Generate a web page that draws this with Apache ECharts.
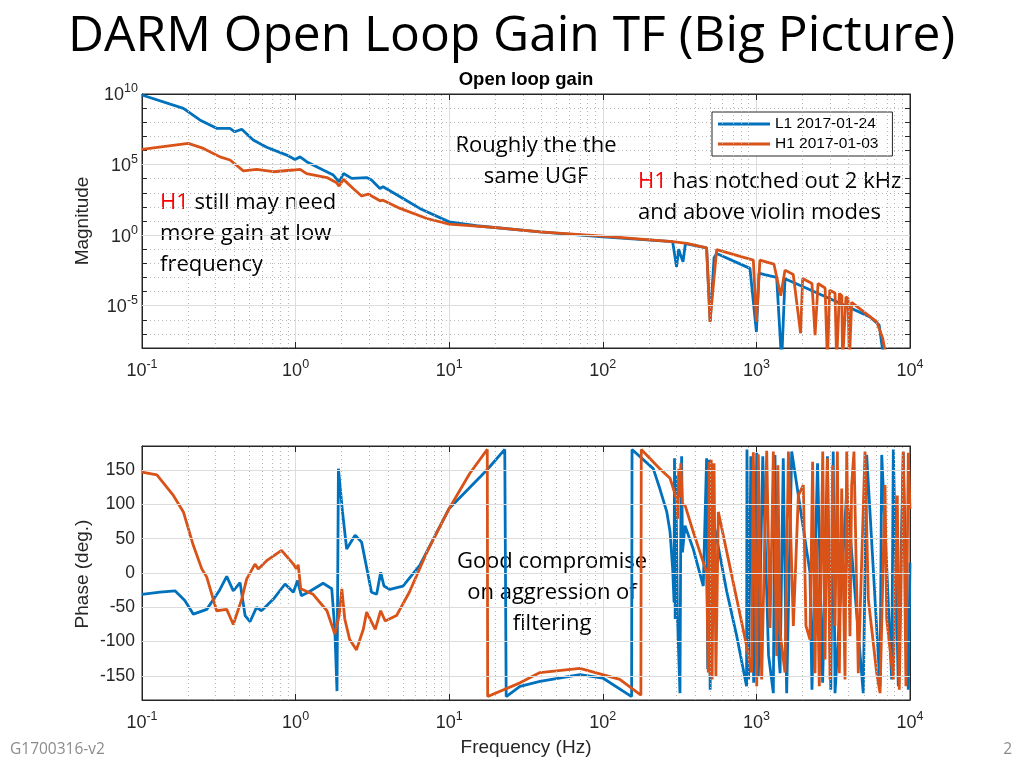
<!DOCTYPE html>
<html><head><meta charset="utf-8">
<script src="https://cdn.jsdelivr.net/npm/echarts@6/dist/echarts.min.js"></script>
<style>html,body{margin:0;padding:0;background:#fff}#c{width:1024px;height:768px}</style>
</head><body><div id="c"></div>
<script>
// ---------------- data ----------------
const seriesNames = ['L1 2017-01-24', 'H1 2017-01-03'];
const xTickExponents = [-1, 0, 1, 2, 3, 4];
const magTickExponents = [-5, 0, 5, 10];
const phaseTicks = [-150, -100, -50, 0, 50, 100, 150];

const magFreqL1 = [0.1, 0.186, 0.238, 0.306, 0.374, 0.402, 0.446, 0.53, 0.648, 0.876, 0.99, 1.07, 1.18, 1.51, 1.76, 1.92, 2.05, 2.32, 2.9, 3.12, 3.54, 3.71, 4.79, 6.43, 10, 15, 39, 100, 285, 302, 312, 318, 333, 345, 474, 500, 530, 551, 908, 1000, 1040, 1130, 1355, 1460, 1535, 2018, 3330, 5495, 6300, 6800];
const magL1 = [8.5e9, 9.5e8, 1.45e8, 3.7e7, 3.7e7, 2.1e7, 3.2e7, 5.5e6, 1.7e6, 4.7e5, 2.3e5, 3.5e5, 1.6e5, 4.1e4, 1.8e4, 6.0e3, 2.3e4, 1.05e4, 1.2e4, 7.9e3, 2.0e3, 2.7e3, 5.2e2, 78, 8.7, 4.6, 1.7, 0.76, 0.34, 5.6e-3, 0.1, 0.05, 1.3e-2, 0.25, 0.126, 8e-7, 0.025, 0.05, 4.4e-3, 1.4e-7, 2e-3, 1.6e-3, 1.0e-3, 1e-9, 8e-4, 2.2e-4, 1.9e-5, 1.6e-6, 4.2e-7, 1e-9];

const magFreqH1 = [0.1, 0.2, 0.251, 0.322, 0.374, 0.457, 0.557, 0.717, 0.967, 1.07, 1.18, 1.6, 1.85, 1.92, 2.05, 2.37, 2.69, 2.97, 3.54, 3.71, 4.79, 7.15, 10, 19.3, 39, 100, 285, 352, 474, 499, 551, 955, 1000, 1054, 1300, 1440, 1535, 1738, 1940, 2000, 2300, 2410, 2520, 2800, 2900, 3000, 3250, 3330, 3470, 3600, 3640, 3830, 3950, 4030, 4170, 6070, 6640, 7100];
const magH1 = [1.2e6, 3.2e6, 1.4e6, 3.5e5, 2.1e5, 3.6e4, 4.6e4, 3.1e4, 4.1e4, 4.6e4, 2.3e4, 1.2e4, 5.1e3, 3.0e3, 8.9e3, 2.0e3, 5.9e2, 8.1e2, 2.7e2, 3.0e2, 78, 15, 6.0, 3.5, 1.7, 0.85, 0.34, 0.26, 0.126, 7e-7, 0.095, 1.7e-2, 7e-7, 1.7e-2, 8.9e-3, 5e-5, 3.3e-3, 1.6e-3, 1.1e-7, 8.5e-4, 3.7e-4, 8e-8, 3.7e-4, 1.8e-4, 1e-9, 1.26e-4, 8e-5, 1e-9, 7.4e-5, 5e-5, 1e-9, 4.3e-5, 3.2e-5, 1e-9, 1.7e-5, 7e-7, 5e-8, 1e-9];

const phaseFreqL1 = [0.1, 0.131, 0.164, 0.19, 0.216, 0.264, 0.32, 0.356, 0.393, 0.435, 0.469, 0.505, 0.557, 0.6, 0.717, 0.854, 0.967, 1.03, 1.09, 1.21, 1.51, 1.72, 1.80, 1.86, 1.90, 2.02, 2.15, 2.44, 2.69, 3.12, 3.37, 3.58, 3.76, 4.11, 5.0, 6.43, 10, 17.6, 23.0, 23.5, 28.9, 39, 71, 100, 154, 155, 213, 235, 261, 274, 285, 291, 293, 296, 299, 306, 318, 322, 326, 330, 343, 388, 451, 474, 482, 490, 500, 510, 537, 641, 745, 863, 868, 890, 920, 960, 1005, 1030, 1100, 1200, 1289, 1321, 1380, 1426, 1496, 1574, 1698, 2232, 2300, 2500, 2700, 2900, 3050, 3164, 3250, 3871, 4963, 5223, 6383, 6546, 7600, 7787, 8392, 9041, 9751, 10000];
const phaseL1 = [-31, -28, -26, -40, -60, -53, -25, -5, -26, -14, -62, -71, -50, -55, -38, -16, -28, -11, -33, -28, -15, -23, -82, -172, 152, 89, 35, 55, 45, -28, -31, 1, -19, -24, -19, 11, 94, 150, 180, -180, -165, -158, -148, -153, -180, 180, 152, 123, 89, 60, 6, -43, 167, -67, 142, -60, -175, 74, 170, 30, 69, 35, -19, 167, -140, 165, -170, 60, 64, -27, -92, -165, 180, -155, 170, -160, 175, -150, 170, -120, -175, 172, -100, -146, 167, -175, 177, 1, -170, 160, -160, 170, -170, 177, -175, 118, -175, 172, -165, 172, -155, 180, -165, 176, -170, 15];

const phaseFreqH1 = [0.1, 0.125, 0.16, 0.186, 0.216, 0.245, 0.264, 0.306, 0.356, 0.393, 0.446, 0.48, 0.544, 0.571, 0.648, 0.81, 0.967, 1.01, 1.04, 1.08, 1.3, 1.6, 1.8, 1.92, 2.0, 2.09, 2.25, 2.49, 2.76, 2.9, 3.3, 3.58, 3.83, 4.54, 5.5, 7.15, 10, 13.6, 17.7, 17.8, 28.9, 39, 71, 129, 177, 178, 235, 274, 302, 308, 312, 318, 322, 330, 343, 388, 474, 486, 492, 500, 508, 515, 530, 545, 565, 745, 863, 931, 955, 1005, 1029, 1082, 1167, 1227, 1289, 1355, 1380, 1426, 1535, 1616, 1740, 1875, 2020, 2102, 2232, 2323, 2408, 2468, 2568, 2703, 2798, 2899, 3016, 3138, 3250, 3366, 3467, 3592, 3774, 3871, 4066, 4169, 4318, 4607, 5093, 5353, 6072, 6383, 6878, 7052, 7787, 8267, 8517, 9041, 9412, 9751, 10000];
const phaseH1 = [147, 143, 113, 89, 40, 6, -6, -55, -53, -75, -38, -9, 13, 6, 18, 33, 13, 6, 12, -23, -31, -55, -89, -62, -23, -67, -97, -112, -82, -57, -82, -55, -70, -62, -28, 30, 94, 145, 180, -180, -160, -145, -139, -155, -178, 180, 152, 138, 108, 79, 152, 110, 160, 100, 99, 60, 1, -145, 162, -150, 165, -155, 160, -150, 89, -38, -106, -145, 176, -165, 173, -155, 178, -80, 177, -121, 157, -87, -145, 177, -77, 113, 128, -77, -97, 162, -146, 50, -165, 177, -126, 167, -155, 157, -77, 177, -146, 123, -155, 177, -92, 128, 177, -146, 177, -38, -146, -175, 128, -67, -155, 113, -170, 177, -165, 175, 93];

// ---------------- build ----------------
const BLUE = '#0072BD', ORANGE = '#D95319', AX = '#262626';
const lg = Math.log10;
const toMag = (fs, vs) => fs.map((f, i) => [lg(f), lg(vs[i])]);
const toPh = (fs, vs) => fs.map((f, i) => [lg(f), vs[i]]);

const minorX = [];
for (let d = -1; d <= 3; d++) for (let k = 2; k <= 9; k++) minorX.push(lg(k) + d);
const dotted = {color: '#b8b8b8', width: 1, type: [1, 3]};
const solid = {color: '#dcdcdc', width: 1, type: 'solid'};

const supRich = {
  b: {fontSize: 18, fontFamily: 'Liberation Sans', color: AX, verticalAlign: 'bottom', lineHeight: 21},
  s: {fontSize: 12.5, fontFamily: 'Liberation Sans', color: AX, verticalAlign: 'bottom', padding: [0, 0, 9, 0], lineHeight: 21}
};

function xAxes(gi) {
  const base = {gridIndex: gi, type: 'value', min: -1, max: 4, interval: 1,
    axisLine: {show: true, onZero: false, lineStyle: {color: AX, width: 1}},
    axisTick: {show: true, inside: true, length: 6, lineStyle: {color: AX}}};
  return [
    Object.assign({}, base, {position: 'bottom',
      axisLabel: {margin: 11, formatter: v => xTickExponents.includes(v) ? '{b|10}{s|' + v + '}' : '', rich: supRich},
      splitLine: {show: true, lineStyle: solid}}),
    Object.assign({}, base, {position: 'top', axisLabel: {show: false}, splitLine: {show: false}})
  ];
}

const yAxisTop = {gridIndex: 0, type: 'value', min: -8, max: 10, interval: 1,
  axisLine: {show: true, onZero: false, lineStyle: {color: AX}},
  axisTick: {show: true, inside: true, length: 5, lineStyle: {color: AX}},
  axisLabel: {margin: 4, formatter: v => magTickExponents.includes(v) ? '{b|10}{s|' + v + '}' : '', rich: supRich},
  splitLine: {show: true, lineStyle: dotted}};
const yAxisTopR = Object.assign({}, yAxisTop, {position: 'right', axisLabel: {show: false}, splitLine: {show: false}});
yAxisTop.position = 'left';

const yAxisBot = {gridIndex: 1, type: 'value', min: -185, max: 185, position: 'left',
  axisLine: {show: true, onZero: false, lineStyle: {color: AX}},
  axisTick: {show: true, inside: true, length: 6, lineStyle: {color: AX}, customValues: phaseTicks},
  axisLabel: {margin: 7, fontSize: 17.5, fontFamily: 'Liberation Sans', color: AX, customValues: phaseTicks},
  splitLine: {show: false}};
const yAxisBotR = Object.assign({}, yAxisBot, {position: 'right', axisLabel: {show: false}});

function helper(gi, yLines) {
  const data = minorX.map(v => ({xAxis: v, lineStyle: dotted}))
    .concat(yLines.map(v => ({yAxis: v, lineStyle: solid})));
  return {type: 'line', xAxisIndex: gi * 2, yAxisIndex: gi * 2, data: [], silent: true, z: 1,
    markLine: {silent: true, symbol: ['none', 'none'], label: {show: false}, animation: false, data: data}};
}

function line(name, color, data, gi) {
  return {name, type: 'line', xAxisIndex: gi * 2, yAxisIndex: gi * 2, data, showSymbol: false,
    clip: true, z: 3, lineStyle: {color, width: 2.8}, itemStyle: {color}, emphasis: {disabled: true}};
}

const annFont = 'Open Sans';
const annSize = 22;
function txt(x, y, text, opt) {
  return {type: 'text', x, y, silent: true, style: Object.assign({
    text, fill: '#000', fontFamily: annFont, fontSize: annSize, lineHeight: 31,
    align: 'left', verticalAlign: 'middle', textAlign: 'left', textVerticalAlign: 'middle'}, opt || {})};
}
const red = {r: {fill: '#ff0000', fontFamily: annFont, fontSize: annSize}};

const chart = echarts.init(document.getElementById('c'), null, {renderer: 'canvas'});
chart.setOption({
  animation: false,
  backgroundColor: '#fff',
  grid: [
    {left: 142, top: 94, width: 768, height: 254, show: true, borderColor: AX, borderWidth: 1, backgroundColor: 'transparent'},
    {left: 142, top: 446, width: 768, height: 254, show: true, borderColor: AX, borderWidth: 1, backgroundColor: 'transparent'}
  ],
  xAxis: xAxes(0).concat(xAxes(1)),
  yAxis: [yAxisTop, yAxisTopR, yAxisBot, yAxisBotR],
  legend: {data: seriesNames, orient: 'vertical', left: 712, top: 112, icon: 'rect', itemWidth: 52, itemHeight: 3,
    itemGap: 4, padding: [4, 14, 4, 6], backgroundColor: '#fff', borderColor: AX, borderWidth: 1,
    textStyle: {fontFamily: 'Liberation Sans', fontSize: 15.5, color: '#000'}, selectedMode: false},
  series: [
    helper(0, [-5, 0, 5]),
    helper(1, phaseTicks),
    line(seriesNames[0], BLUE, toMag(magFreqL1, magL1), 0),
    line(seriesNames[1], ORANGE, toMag(magFreqH1, magH1), 0),
    line(seriesNames[0], BLUE, toPh(phaseFreqL1, phaseL1), 1),
    line(seriesNames[1], ORANGE, toPh(phaseFreqH1, phaseH1), 1)
  ],
  graphic: [
    txt(68, 37, 'DARM Open Loop Gain TF (Big Picture)', {fontSize: 49.7, lineHeight: 56}),
    txt(526, 80, 'Open loop gain', {fontFamily: 'Liberation Sans', fontWeight: 'bold', fontSize: 18.5, align: 'center', textAlign: 'center'}),
    txt(536, 161, 'Roughly the the\nsame UGF', {align: 'center', textAlign: 'center'}),
    txt(160, 234, '{r|H1} still may need\nmore gain at low\nfrequency', {rich: red}),
    txt(638, 197, '{r|H1} has notched out 2 kHz\nand above violin modes', {rich: red}),
    txt(552, 593, 'Good compromise\non aggression of\nfiltering', {align: 'center', textAlign: 'center'}),
    txt(526, 748, 'Frequency (Hz)', {fontFamily: 'Liberation Sans', fontSize: 19, fill: AX, align: 'center', textAlign: 'center'}),
    Object.assign(txt(83, 221, 'Magnitude', {fontFamily: 'Liberation Sans', fontSize: 19, fill: AX, align: 'center', textAlign: 'center'}), {rotation: Math.PI / 2}),
    Object.assign(txt(83, 574, 'Phase (deg.)', {fontFamily: 'Liberation Sans', fontSize: 19, fill: AX, align: 'center', textAlign: 'center'}), {rotation: Math.PI / 2}),
    txt(10, 750, 'G1700316-v2', {fontSize: 15.5, fill: '#8c8c8c'}),
    txt(1012, 750, '2', {fontSize: 15.5, fill: '#8c8c8c', align: 'right', textAlign: 'right'})
  ]
});
</script>
</body></html>
